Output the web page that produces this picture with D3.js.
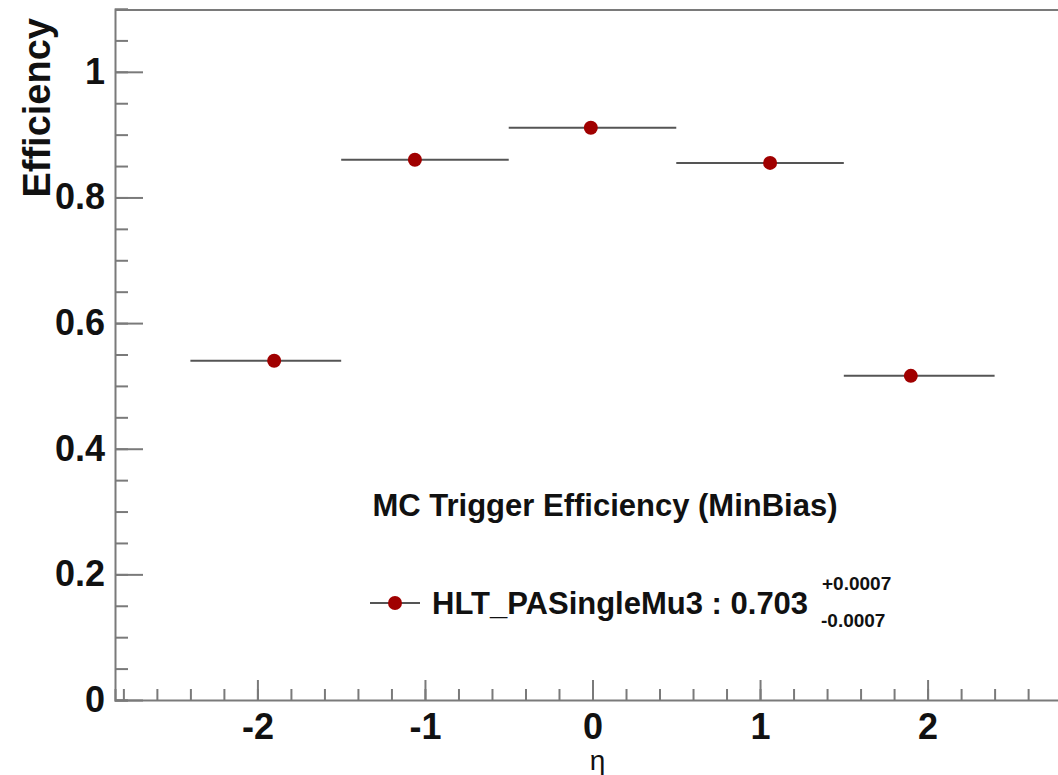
<!DOCTYPE html>
<html>
<head>
<meta charset="utf-8">
<script src="https://cdn.jsdelivr.net/npm/d3@7"></script>
<style>
  body { margin: 0; background: #fff; }
  svg { display: block; font-family: "Liberation Sans", Arial, sans-serif; }
</style>
</head>
<body>
<svg id="chart" width="1058" height="775"></svg>
<script>
// eta bins and trigger efficiency per bin
const binLow = [-2.4, -1.5, -0.5, 0.5, 1.5];
const binHigh = [-1.5, -0.5, 0.5, 1.5, 2.4];
const etaMean = [-1.90, -1.06, -0.01, 1.06, 1.90];
const efficiency = [0.540, 0.860, 0.911, 0.855, 0.516];

const xMajorTicks = [-2, -1, 0, 1, 2];
const yMajorTicks = [0, 0.2, 0.4, 0.6, 0.8, 1];

const legendName = "HLT_PASingleMu3 : 0.703";
const legendErrUp = "+0.0007";
const legendErrDown = "-0.0007";
const plotTitle = "MC Trigger Efficiency (MinBias)";

const frame = { left: 115, top: 9, bottom: 700, right: 1070 };
const axisColor = "#7a7a7a";
const markerColor = "#a00000";

const svg = d3.select("#chart");

const x = d3.scaleLinear().domain([-2.85, 2.85]).range([frame.left, frame.right]);
const y = d3.scaleLinear().domain([0, 1.1]).range([frame.bottom, frame.top]);

// minor ticks every 0.2 in eta, 0.05 in efficiency
const xMinor = d3.range(-2.8, 2.81, 0.2).map(v => +v.toFixed(2));
const yMinor = d3.range(0, 1.101, 0.05).map(v => +v.toFixed(2));

// top frame line
svg.append("line")
    .attr("x1", frame.left).attr("x2", 1058)
    .attr("y1", frame.top + 1).attr("y2", frame.top + 1)
    .attr("stroke", axisColor).attr("stroke-width", 2);

function styleAxis(g) {
    g.selectAll("path.domain").attr("stroke", axisColor).attr("stroke-width", 2);
    g.selectAll(".tick line").attr("stroke", axisColor).attr("stroke-width", 2);
    g.selectAll("text")
        .attr("fill", "#111")
        .style("font-size", "36px")
        .style("font-weight", "bold");
}

// y axis: minor ticks, then major ticks with labels
svg.append("g")
    .attr("transform", `translate(${frame.left},0)`)
    .call(d3.axisLeft(y).tickValues(yMinor).tickSize(-13).tickFormat(""))
    .call(styleAxis);

svg.append("g")
    .attr("transform", `translate(${frame.left},0)`)
    .call(d3.axisLeft(y).tickValues(yMajorTicks).tickSize(-28).tickPadding(10)
        .tickFormat(d => String(d)))
    .call(styleAxis)
    .call(g => g.selectAll("path.domain").remove());

// x axis
svg.append("g")
    .attr("transform", `translate(0,${frame.bottom})`)
    .call(d3.axisBottom(x).tickValues(xMinor).tickSize(-11).tickFormat(""))
    .call(styleAxis);

svg.append("g")
    .attr("transform", `translate(0,${frame.bottom})`)
    .call(d3.axisBottom(x).tickValues(xMajorTicks).tickSize(-20).tickPadding(12)
        .tickFormat(d => String(d)))
    .call(styleAxis)
    .call(g => g.selectAll("path.domain").remove())
    .call(g => g.selectAll("text").attr("dy", "0.71em").attr("y", 13));

// axis titles
svg.append("text")
    .attr("transform", `translate(50,18) rotate(-90)`)
    .attr("text-anchor", "end")
    .style("font-size", "38px")
    .style("font-weight", "bold")
    .attr("fill", "#111")
    .text("Efficiency");

svg.append("text")
    .attr("x", x(0) + 5).attr("y", 770)
    .attr("text-anchor", "middle")
    .style("font-size", "28px")
    .attr("fill", "#111")
    .text("η");

// data: horizontal bin-width bars and markers
const points = efficiency.map((e, i) => ({ lo: binLow[i], hi: binHigh[i], eta: etaMean[i], eff: e }));

svg.append("g").selectAll("line")
    .data(points).join("line")
    .attr("x1", d => x(d.lo)).attr("x2", d => x(d.hi))
    .attr("y1", d => y(d.eff)).attr("y2", d => y(d.eff))
    .attr("stroke", "#555").attr("stroke-width", 2);

svg.append("g").selectAll("circle")
    .data(points).join("circle")
    .attr("cx", d => x(d.eta)).attr("cy", d => y(d.eff))
    .attr("r", 7)
    .attr("fill", markerColor);

// legend header
svg.append("text")
    .attr("x", 605).attr("y", 516)
    .attr("text-anchor", "middle")
    .style("font-size", "31px")
    .style("font-weight", "bold")
    .attr("fill", "#111")
    .text(plotTitle);

// legend entry
const leg = svg.append("g").attr("transform", "translate(370,603)");
leg.append("line").attr("x1", 0).attr("x2", 50).attr("y1", 0).attr("y2", 0)
    .attr("stroke", "#555").attr("stroke-width", 2);
leg.append("circle").attr("cx", 25).attr("cy", 0).attr("r", 7).attr("fill", markerColor);
leg.append("text")
    .attr("x", 62).attr("y", 11)
    .style("font-size", "31px").style("font-weight", "bold").attr("fill", "#111")
    .text(legendName);
leg.append("text")
    .attr("x", 452).attr("y", -13)
    .style("font-size", "19px").style("font-weight", "bold").attr("fill", "#111")
    .text(legendErrUp);
leg.append("text")
    .attr("x", 451).attr("y", 24)
    .style("font-size", "19px").style("font-weight", "bold").attr("fill", "#111")
    .text(legendErrDown);
</script>
</body>
</html>
